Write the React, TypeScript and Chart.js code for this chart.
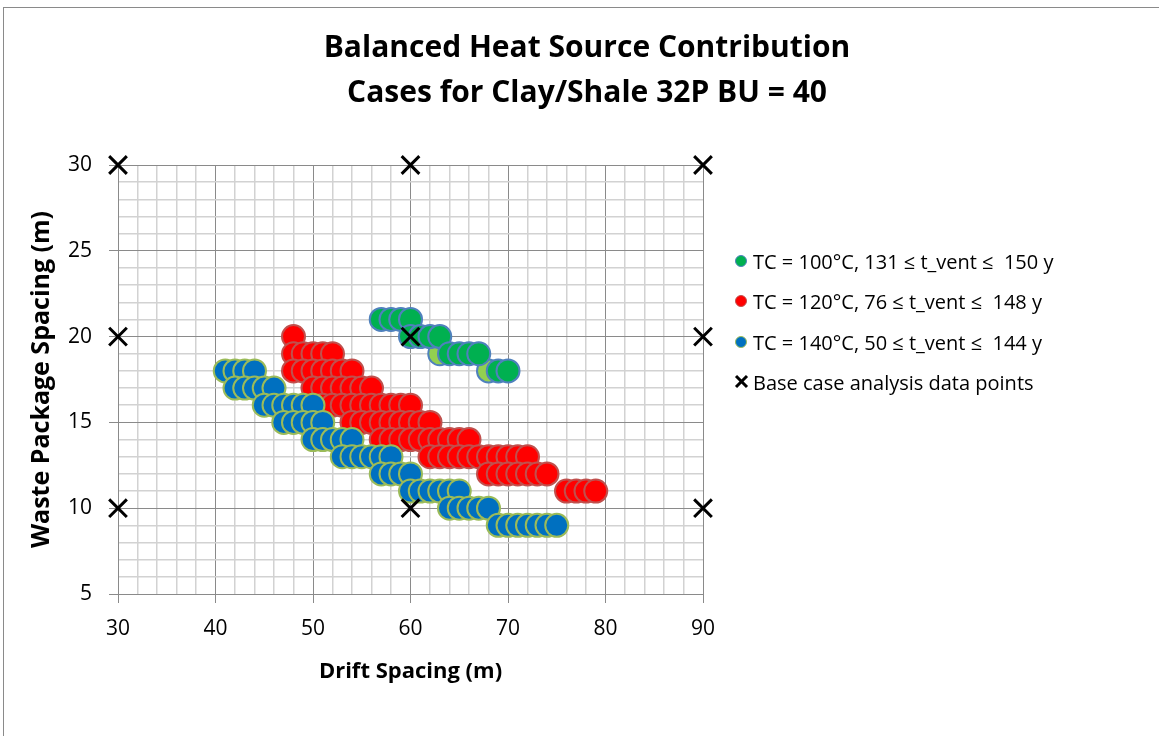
import React, { useEffect, useRef } from 'react';
import { Chart, registerables } from 'chart.js';

Chart.register(...registerables);

const FONT = '"Open Sans", Lato, sans-serif';

const TITLE_LINES = ['Balanced Heat Source Contribution', 'Cases for Clay/Shale 32P BU = 40'];
const X_TITLE = 'Drift Spacing (m)';
const Y_TITLE = 'Waste Package Spacing (m)';

const X_MIN = 30;
const X_MAX = 90;
const X_STEP = 2;
const X_LABEL_EVERY = 10;
const Y_MIN = 5;
const Y_MAX = 30;
const Y_STEP = 1;
const Y_LABEL_EVERY = 5;

const LEGEND_LABELS = [
  'TC = 100\u00B0C, 131 \u2264 t_vent \u2264  150 y',
  'TC = 120\u00B0C, 76 \u2264 t_vent \u2264  148 y',
  'TC = 140\u00B0C, 50 \u2264 t_vent \u2264  144 y',
  'Base case analysis data points',
];

// TC = 100 C
const tc100X = [57, 58, 59, 60, 60, 61, 62, 63, 64, 65, 66, 67, 69, 70];
const tc100Y = [21, 21, 21, 21, 20, 20, 20, 20, 19, 19, 19, 19, 18, 18];
// TC = 100 C, highlighted points
const tc100LightX = [63, 68];
const tc100LightY = [19, 18];

// TC = 120 C
const tc120X = [
  48,
  48, 49, 50, 51, 52,
  48, 49, 50, 51, 52, 53, 54,
  50, 51, 52, 53, 54, 55, 56,
  51, 52, 53, 54, 55, 56, 57, 58, 59, 60,
  54, 55, 56, 57, 58, 59, 60, 61, 62,
  57, 58, 59, 60, 61, 62, 63, 64, 65, 66,
  62, 63, 64, 65, 66, 67, 68, 69, 70, 71, 72,
  68, 69, 70, 71, 72, 73, 74,
  76, 77, 78, 79,
];
const tc120Y = [
  20,
  19, 19, 19, 19, 19,
  18, 18, 18, 18, 18, 18, 18,
  17, 17, 17, 17, 17, 17, 17,
  16, 16, 16, 16, 16, 16, 16, 16, 16, 16,
  15, 15, 15, 15, 15, 15, 15, 15, 15,
  14, 14, 14, 14, 14, 14, 14, 14, 14, 14,
  13, 13, 13, 13, 13, 13, 13, 13, 13, 13, 13,
  12, 12, 12, 12, 12, 12, 12,
  11, 11, 11, 11,
];

// TC = 140 C
const tc140X = [
  41, 42, 43, 44,
  42, 43, 44, 45, 46,
  45, 46, 47, 48, 49, 50,
  47, 48, 49, 50, 51,
  50, 51, 52, 53, 54,
  53, 54, 55, 56, 57, 58,
  57, 58, 59, 60,
  60, 61, 62, 63, 64, 65,
  64, 65, 66, 67, 68,
  69, 70, 71, 72, 73, 74, 75,
];
const tc140Y = [
  18, 18, 18, 18,
  17, 17, 17, 17, 17,
  16, 16, 16, 16, 16, 16,
  15, 15, 15, 15, 15,
  14, 14, 14, 14, 14,
  13, 13, 13, 13, 13, 13,
  12, 12, 12, 12,
  11, 11, 11, 11, 11, 11,
  10, 10, 10, 10, 10,
  9, 9, 9, 9, 9, 9, 9,
];

// Base case analysis data points
const baseX = [30, 60, 90, 30, 60, 90, 30, 60, 90];
const baseY = [30, 30, 30, 20, 20, 20, 10, 10, 10];

const toPoints = (xs: number[], ys: number[]) => xs.map((x, i) => ({ x, y: ys[i] }));

const GREEN = '#00B050';
const GREEN_BORDER = '#4F81BD';
const LIGHT_GREEN = '#92D050';
const RED = '#FF0000';
const RED_BORDER = '#C0504D';
const BLUE = '#0070C0';
const BLUE_BORDER = '#9BBB59';
const MAJOR = '#8a8a8a';
const MINOR = '#d2d2d2';

const BUBBLE_R = 11.5;

export default function App() {
  const canvasRef = useRef<HTMLCanvasElement | null>(null);

  useEffect(() => {
    const canvas = canvasRef.current;
    if (!canvas) return;
    const chart = new Chart(canvas, {
      type: 'scatter',
      data: {
        datasets: [
          {
            label: LEGEND_LABELS[3],
            data: toPoints(baseX, baseY),
            pointStyle: 'crossRot',
            pointRadius: 12.5,
            borderColor: '#000',
            backgroundColor: '#000',
            pointBorderWidth: 3,
            borderWidth: 3,
            clip: false,
            order: 0,
          } as any,
          {
            label: LEGEND_LABELS[2],
            data: toPoints(tc140X, tc140Y),
            pointRadius: BUBBLE_R,
            backgroundColor: BLUE,
            borderColor: BLUE_BORDER,
            borderWidth: 2,
            order: 1,
          },
          {
            label: LEGEND_LABELS[1],
            data: toPoints(tc120X, tc120Y),
            pointRadius: BUBBLE_R,
            backgroundColor: RED,
            borderColor: RED_BORDER,
            borderWidth: 2,
            order: 2,
          },
          {
            label: LEGEND_LABELS[0],
            data: toPoints(tc100X, tc100Y),
            pointRadius: BUBBLE_R,
            backgroundColor: GREEN,
            borderColor: GREEN_BORDER,
            borderWidth: 2,
            order: 3,
          },
          {
            label: LEGEND_LABELS[0] + ' (highlighted)',
            data: toPoints(tc100LightX, tc100LightY),
            pointRadius: BUBBLE_R,
            backgroundColor: LIGHT_GREEN,
            borderColor: GREEN_BORDER,
            borderWidth: 2,
            order: 4,
          },
        ],
      },
      options: {
        responsive: false,
        animation: false,
        layout: { padding: { left: 28, right: 13, top: 12, bottom: 51 } },
        plugins: {
          legend: { display: false },
          tooltip: { enabled: false },
          title: {
            display: true,
            text: TITLE_LINES,
            color: '#000',
            font: { family: FONT, size: 30, weight: 'bold', lineHeight: 45 / 30 },
            padding: { top: 14, bottom: 49 },
          },
        },
        scales: {
          x: {
            type: 'linear',
            min: X_MIN,
            max: X_MAX,
            afterFit: (s: any) => {
              s.height = 91;
            },
            ticks: {
              stepSize: X_STEP,
              autoSkip: false,
              maxRotation: 0,
              padding: 13,
              color: '#000',
              font: { family: FONT, size: 21 },
              callback: (v: any) => (Number(v) % X_LABEL_EVERY === 0 ? String(v) : ''),
            },
            grid: {
              color: (c: any) => (c.tick && c.tick.value % X_LABEL_EVERY === 0 ? MAJOR : MINOR),
              lineWidth: (c: any) => (c.tick && c.tick.value % X_LABEL_EVERY === 0 ? 1 : 1.5),
              tickColor: (c: any) => (c.tick && c.tick.value % X_LABEL_EVERY === 0 ? MAJOR : 'rgba(0,0,0,0)'),
              tickLength: 9,
            },
            border: { color: MAJOR, width: 1 },
            title: {
              display: true,
              text: X_TITLE,
              color: '#000',
              font: { family: FONT, size: 22, weight: 'bold', lineHeight: 1.2 },
              padding: { top: 0, bottom: 0 },
            },
          },
          y: {
            type: 'linear',
            min: Y_MIN,
            max: Y_MAX,
            afterFit: (s: any) => {
              s.width = 90;
            },
            ticks: {
              stepSize: Y_STEP,
              autoSkip: false,
              padding: 17,
              color: '#000',
              font: { family: FONT, size: 21 },
              callback: (v: any) => (Number(v) % Y_LABEL_EVERY === 0 ? String(v) : ''),
            },
            grid: {
              color: (c: any) => (c.tick && c.tick.value % Y_LABEL_EVERY === 0 ? MAJOR : MINOR),
              lineWidth: (c: any) => (c.tick && c.tick.value % Y_LABEL_EVERY === 0 ? 1 : 1.5),
              tickColor: (c: any) => (c.tick && c.tick.value % Y_LABEL_EVERY === 0 ? MAJOR : 'rgba(0,0,0,0)'),
              tickLength: 9,
            },
            border: { color: MAJOR, width: 1 },
            title: {
              display: true,
              text: Y_TITLE,
              color: '#000',
              font: { family: FONT, size: 25, weight: 'bold', lineHeight: 1.1 },
              padding: { top: 0, bottom: 0 },
            },
          },
          spacer: {
            type: 'linear',
            position: 'right',
            display: true,
            min: 0,
            max: 1,
            afterFit: (s: any) => {
              s.width = 443;
            },
            grid: { display: false, drawTicks: false },
            ticks: { display: false },
            border: { display: false },
          },
        },
      } as any,
    });
    return () => chart.destroy();
  }, []);

  const legendRows = [
    { cy: 261, kind: 'dot', fill: GREEN, stroke: GREEN_BORDER },
    { cy: 301, kind: 'dot', fill: RED, stroke: RED_BORDER },
    { cy: 342, kind: 'dot', fill: BLUE, stroke: BLUE_BORDER },
    { cy: 382, kind: 'cross', fill: '#000', stroke: '#000' },
  ];

  return (
    <div
      style={{
        position: 'absolute',
        left: 0,
        top: 0,
        width: 1159,
        height: 736,
        overflow: 'hidden',
        background: '#fff',
      }}
    >
      <div
        style={{
          position: 'absolute',
          left: 3,
          top: 7,
          width: 1200,
          height: 760,
          border: '1px solid #8a8a8a',
        }}
      />
      <canvas
        ref={canvasRef}
        width={1159}
        height={736}
        style={{ position: 'absolute', left: 0, top: 0, width: 1159, height: 736 }}
      />
      {legendRows.map((r, i) => (
        <div
          key={i}
          style={{
            position: 'absolute',
            left: 733,
            top: r.cy - 13,
            height: 26,
            display: 'flex',
            alignItems: 'center',
            fontFamily: FONT,
            fontSize: 20,
            color: '#000',
            whiteSpace: 'pre',
          }}
        >
          <svg width={18} height={18} style={{ marginRight: 2 }}>
            {r.kind === 'dot' ? (
              <circle cx={8} cy={9} r={5.5} fill={r.fill} stroke={r.stroke} strokeWidth={1} />
            ) : (
              <g stroke="#000" strokeWidth={3}>
                <line x1={3} y1={3} x2={14} y2={14} />
                <line x1={14} y1={3} x2={3} y2={14} />
              </g>
            )}
          </svg>
          <span>{LEGEND_LABELS[i]}</span>
        </div>
      ))}
    </div>
  );
}
